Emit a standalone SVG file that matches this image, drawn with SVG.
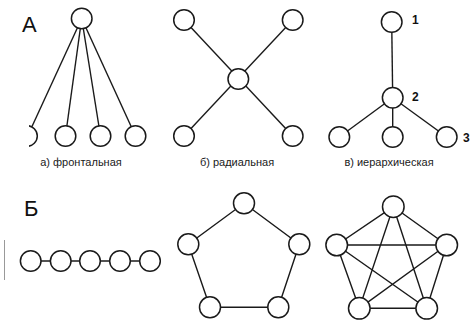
<svg xmlns="http://www.w3.org/2000/svg" width="476" height="325" viewBox="0 0 476 325">
<style>
.n{fill:#fff;stroke:#1a1a1a;stroke-width:1.5}
.e{stroke:#1a1a1a;stroke-width:1.4;fill:none}
.lab{font-family:"Liberation Sans",Arial,sans-serif;font-size:11px;fill:#1a1a1a;text-anchor:middle}
.big{font-family:"Liberation Sans",Arial,sans-serif;font-size:22px;fill:#111}
.num{font-family:"Liberation Sans",Arial,sans-serif;font-size:12px;font-weight:bold;fill:#111}
</style>
<defs>
<clipPath id="cl"><rect x="29" y="0" width="447" height="325"/></clipPath>
</defs>
<rect width="476" height="325" fill="#fff"/>
<g id="connectors">
<line class="e" x1="81.7" y1="18.5" x2="32" y2="126.5"/>
<line class="e" x1="81.7" y1="18.5" x2="65.5" y2="136"/>
<line class="e" x1="81.7" y1="18.5" x2="100.5" y2="136"/>
<line class="e" x1="81.7" y1="18.5" x2="135.5" y2="136"/>
<line class="e" x1="184" y1="20" x2="292.7" y2="136"/>
<line class="e" x1="292.7" y1="20" x2="184" y2="136"/>
<line class="e" x1="391.7" y1="22" x2="392.7" y2="97.7"/>
<line class="e" x1="392.7" y1="97.7" x2="339.3" y2="137"/>
<line class="e" x1="392.7" y1="97.7" x2="392.7" y2="137"/>
<line class="e" x1="392.7" y1="97.7" x2="446.7" y2="137"/>
<line class="e" x1="30.7" y1="261" x2="150" y2="261"/>
<polygon class="e" points="244,203.3 299.3,244.3 278.3,307.3 210,307.3 188.3,244.3"/>
<polygon class="e" points="393.3,206.7 446.7,245 426.7,308.3 359.3,308.3 336.7,245"/>
<polygon class="e" points="393.3,206.7 426.7,308.3 336.7,245 446.7,245 359.3,308.3"/>
</g>
<g id="label-A"><text class="big" x="22" y="32">А</text></g>
<g id="label-B"><text class="big" x="24" y="216">Б</text></g>
<line x1="4.5" y1="240" x2="4.5" y2="280" stroke="#999" stroke-width="1"/>
<g id="a-top"><circle class="n" cx="81.7" cy="18.5" r="10.3"/></g>
<g id="a-1" clip-path="url(#cl)"><circle class="n" cx="27" cy="136" r="10.3"/></g>
<g id="a-2"><circle class="n" cx="65.5" cy="136" r="10.3"/></g>
<g id="a-3"><circle class="n" cx="100.5" cy="136" r="10.3"/></g>
<g id="a-4"><circle class="n" cx="135.5" cy="136" r="10.3"/></g>
<text class="lab" x="81" y="166">а) фронтальная</text>
<g id="r-tl"><circle class="n" cx="184" cy="20" r="10.3"/></g>
<g id="r-tr"><circle class="n" cx="292.7" cy="20" r="10.3"/></g>
<g id="r-c"><circle class="n" cx="238.3" cy="79" r="10.3"/></g>
<g id="r-bl"><circle class="n" cx="184" cy="136" r="10.3"/></g>
<g id="r-br"><circle class="n" cx="292.7" cy="136" r="10.3"/></g>
<text class="lab" x="237" y="166">б) радиальная</text>
<g id="h-1"><circle class="n" cx="391.7" cy="22" r="10.3"/><text class="num" x="412" y="24">1</text></g>
<g id="h-2"><circle class="n" cx="392.7" cy="97.7" r="10.3"/><text class="num" x="412" y="101">2</text></g>
<g id="h-3a"><circle class="n" cx="339.3" cy="137" r="10.3"/></g>
<g id="h-3b"><circle class="n" cx="392.7" cy="137" r="10.3"/></g>
<g id="h-3c"><circle class="n" cx="446.7" cy="137" r="10.3"/><text class="num" x="463" y="142">3</text></g>
<text class="lab" x="389" y="166">в) иерархическая</text>
<g id="c-1"><circle class="n" cx="30.7" cy="261" r="10.3"/></g>
<g id="c-2"><circle class="n" cx="60.7" cy="261" r="10.3"/></g>
<g id="c-3"><circle class="n" cx="90" cy="261" r="10.3"/></g>
<g id="c-4"><circle class="n" cx="120" cy="261" r="10.3"/></g>
<g id="c-5"><circle class="n" cx="150" cy="261" r="10.3"/></g>
<g id="p-1"><circle class="n" cx="244" cy="203.3" r="10.5"/></g>
<g id="p-2"><circle class="n" cx="299.3" cy="244.3" r="10.5"/></g>
<g id="p-3"><circle class="n" cx="278.3" cy="307.3" r="10.5"/></g>
<g id="p-4"><circle class="n" cx="210" cy="307.3" r="10.5"/></g>
<g id="p-5"><circle class="n" cx="188.3" cy="244.3" r="10.5"/></g>
<g id="f-1"><circle class="n" cx="393.3" cy="206.7" r="10.8"/></g>
<g id="f-2"><circle class="n" cx="446.7" cy="245" r="10.8"/></g>
<g id="f-3"><circle class="n" cx="426.7" cy="308.3" r="10.8"/></g>
<g id="f-4"><circle class="n" cx="359.3" cy="308.3" r="10.8"/></g>
<g id="f-5"><circle class="n" cx="336.7" cy="245" r="10.8"/></g>
</svg>
